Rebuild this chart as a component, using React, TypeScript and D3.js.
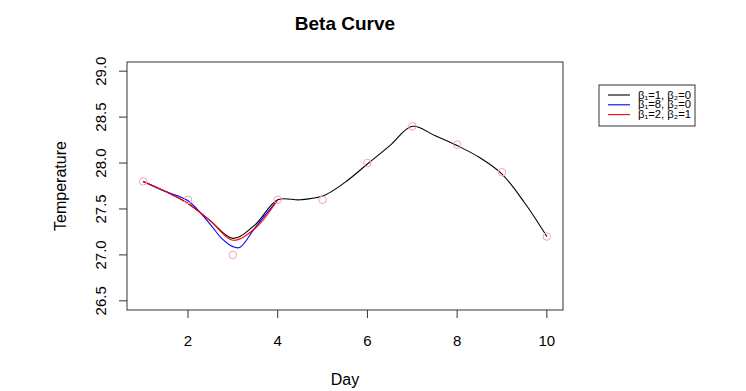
import * as d3 from "d3";
import React from "react";

// observed temperatures
const days = [1, 2, 3, 4, 5, 6, 7, 8, 9, 10];
const temps = [27.8, 27.6, 27.0, 27.6, 27.6, 28.0, 28.4, 28.2, 27.9, 27.2];

// curves
const blackX = [1, 1.5, 2, 2.5, 3, 3.5, 4, 4.5, 5, 5.5, 6, 6.5, 7, 7.5, 8, 8.5, 9, 9.5, 10];
const blackY = [27.8, 27.69, 27.56, 27.37, 27.18, 27.33, 27.6, 27.6, 27.64, 27.79, 27.99, 28.19, 28.4, 28.3, 28.19, 28.06, 27.88, 27.57, 27.2];
const blueX = [1, 1.5, 2, 2.5, 2.75, 3, 3.15, 3.5, 4];
const blueY = [27.8, 27.69, 27.59, 27.33, 27.18, 27.09, 27.08, 27.3, 27.6];
const redX = [1, 1.5, 2, 2.5, 3, 3.5, 4];
const redY = [27.8, 27.69, 27.56, 27.37, 27.16, 27.29, 27.6];

const xTicks = [2, 4, 6, 8, 10];
const yTicks = [26.5, 27.0, 27.5, 28.0, 28.5, 29.0];

const W = 746, H = 391;
const left = 127, right = 563, top = 62, bottom = 310;
const font = "Liberation Sans, Arial, Helvetica, sans-serif";

export default function App() {
  const x = d3.scaleLinear().domain([0.64, 10.36]).range([left, right]);
  const y = d3.scaleLinear().domain([26.4, 29.1]).range([bottom, top]);

  const line = d3.line<number[]>()
    .x(d => x(d[0]))
    .y(d => y(d[1]))
    .curve(d3.curveCatmullRom.alpha(0.5));

  const series = [
    { xs: blackX, ys: blackY, color: "#000000" },
    { xs: blueX, ys: blueY, color: "#0000ff" },
    { xs: redX, ys: redY, color: "#ff0000" },
  ];

  const legend = [
    { a: "1", b: "0", color: "#000000" },
    { a: "8", b: "0", color: "#0000ff" },
    { a: "2", b: "1", color: "#ff0000" },
  ];

  return (
    <svg width={W} height={H} style={{ position: "absolute", left: 0, top: 0, fontFamily: font }}>
      <rect width={W} height={H} fill="#fff" />
      <text x={(left + right) / 2} y={30} textAnchor="middle" fontSize={19} fontWeight="bold">Beta Curve</text>

      {series.map((s, i) => (
        <path key={i} d={line(s.xs.map((v, j) => [v, s.ys[j]])) || ""} fill="none" stroke={s.color} strokeWidth={1.1} />
      ))}

      {days.map((d, i) => (
        <circle key={i} cx={x(d)} cy={y(temps[i])} r={3.8} fill="none" stroke="#f4a3b5" strokeWidth={1} />
      ))}

      <rect x={left} y={top} width={right - left} height={bottom - top} fill="none" stroke="#333" strokeWidth={1} />

      {/* x axis */}
      {xTicks.map(t => (
        <g key={t}>
          <line x1={x(t)} x2={x(t)} y1={bottom} y2={bottom + 8} stroke="#333" />
          <text x={x(t)} y={346} textAnchor="middle" fontSize={15}>{t}</text>
        </g>
      ))}
      <text x={(left + right) / 2} y={385} textAnchor="middle" fontSize={16}>Day</text>

      {/* y axis */}
      {yTicks.map(t => (
        <g key={t}>
          <line x1={left - 8} x2={left} y1={y(t)} y2={y(t)} stroke="#333" />
          <text transform={`translate(106,${y(t)}) rotate(-90)`} textAnchor="middle" fontSize={15}>{t.toFixed(1)}</text>
        </g>
      ))}
      <text transform={`translate(66,${(top + bottom) / 2}) rotate(-90)`} textAnchor="middle" fontSize={16}>Temperature</text>

      {/* legend */}
      <rect x={599} y={85} width={96} height={41} fill="#fff" stroke="#333" />
      {legend.map((l, i) => (
        <g key={i}>
          <line x1={608} x2={630} y1={95 + i * 9.8} y2={95 + i * 9.8} stroke={l.color} strokeWidth={1.1} />
          <text x={638} y={98.5 + i * 9.8} fontSize={10} textLength={53} lengthAdjust="spacingAndGlyphs">
            {`β₁=${l.a}, β₂=${l.b}`}
          </text>
        </g>
      ))}
    </svg>
  );
}
